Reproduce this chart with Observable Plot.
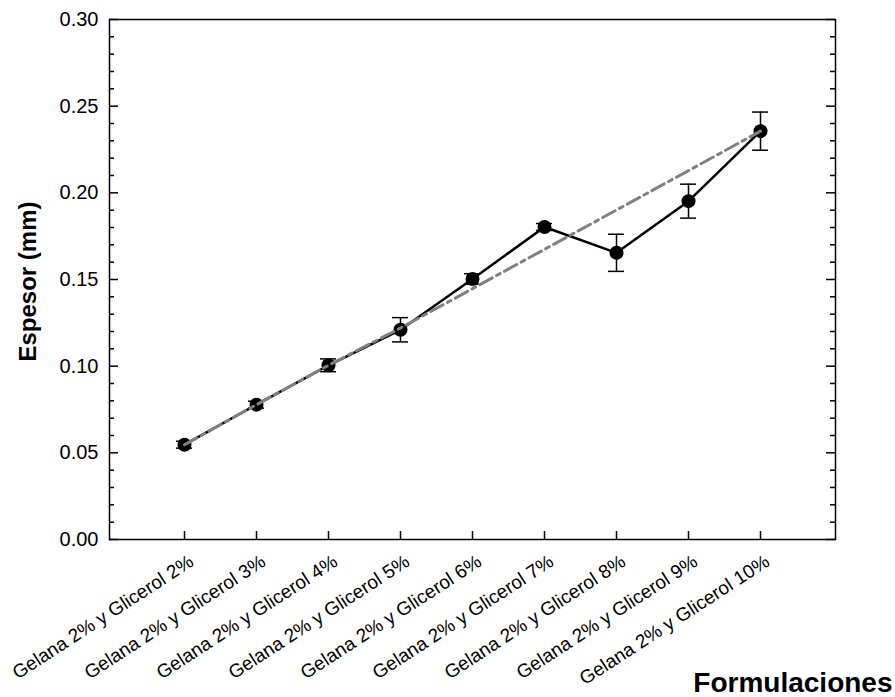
<!DOCTYPE html>
<html>
<head>
<meta charset="utf-8">
<script src="https://cdn.jsdelivr.net/npm/d3@7"></script>
<script src="https://cdn.jsdelivr.net/npm/@observablehq/plot@0.6"></script>
<style>
  html, body { margin: 0; padding: 0; background: #fff; }
</style>
</head>
<body>
<div id="chart"></div>
<script>
const categories = [
  "Gelana 2% y Glicerol 2%",
  "Gelana 2% y Glicerol 3%",
  "Gelana 2% y Glicerol 4%",
  "Gelana 2% y Glicerol 5%",
  "Gelana 2% y Glicerol 6%",
  "Gelana 2% y Glicerol 7%",
  "Gelana 2% y Glicerol 8%",
  "Gelana 2% y Glicerol 9%",
  "Gelana 2% y Glicerol 10%"
];
const espesor = [0.0547, 0.0778, 0.1005, 0.1210, 0.1503, 0.1803, 0.1654, 0.1952, 0.2356];
const errorEst = [0.0020, 0.0020, 0.0037, 0.0070, 0.0030, 0.0020, 0.0107, 0.0098, 0.0110];
const tendencia = [0.0547, 0.0778, 0.1005, 0.1220, 0.1447, 0.1674, 0.1901, 0.2128, 0.2356];

const yTickLabels = [0.00, 0.05, 0.10, 0.15, 0.20, 0.25, 0.30];
const yMinorTicks = [0.01, 0.02, 0.03, 0.04, 0.06, 0.07, 0.08, 0.09, 0.11, 0.12, 0.13, 0.14,
  0.16, 0.17, 0.18, 0.19, 0.21, 0.22, 0.23, 0.24, 0.26, 0.27, 0.28, 0.29];

const yLabel = "Espesor (mm)";
const xLabel = "Formulaciones";

const data = categories.map((c, i) => ({
  cat: c, y: espesor[i], lo: espesor[i] - errorEst[i], hi: espesor[i] + errorEst[i], trend: tendencia[i]
}));

const W = 895, H = 697;
const mL = 109, mR = 60, mT = 19, mB = 158;
const pw = W - mL - mR, ph = H - mT - mB;
const font = "'Liberation Sans', Arial, Helvetica, sans-serif";

const chart = Plot.plot({
  width: W,
  height: H,
  marginLeft: mL,
  marginRight: mR,
  marginTop: mT,
  marginBottom: mB,
  style: { fontFamily: font, background: "#fff", color: "#000" },
  x: { type: "point", domain: categories, padding: 1, axis: null },
  y: { domain: [0, 0.30], axis: null },
  marks: [
    Plot.axisY({ ticks: yTickLabels, tickFormat: d3.format(".2f"), tickSize: 0, tickPadding: 11, fontSize: 20, label: null, line: false }),
    // inward ticks
    Plot.tickY(yTickLabels, { y: d => d, stroke: "#000", strokeWidth: 1.5, insetRight: pw - 9 }),
    Plot.tickY(yMinorTicks, { y: d => d, stroke: "#000", strokeWidth: 1.5, insetRight: pw - 5 }),
    Plot.tickY(yTickLabels, { y: d => d, stroke: "#000", strokeWidth: 1.5, insetLeft: pw - 9 }),
    Plot.tickY(yMinorTicks, { y: d => d, stroke: "#000", strokeWidth: 1.5, insetLeft: pw - 5 }),
    Plot.tickX(categories, { x: d => d, stroke: "#000", strokeWidth: 1.5, insetTop: ph - 8 }),
    Plot.frame({ stroke: "#000", strokeWidth: 1.5 }),
    // error bars
    Plot.ruleX(data, { x: "cat", y1: "lo", y2: "hi", stroke: "#000", strokeWidth: 1.5 }),
    Plot.ruleY(data, { y: "hi", x1: "cat", x2: "cat", insetLeft: -8, insetRight: -8, stroke: "#000", strokeWidth: 1.5 }),
    Plot.ruleY(data, { y: "lo", x1: "cat", x2: "cat", insetLeft: -8, insetRight: -8, stroke: "#000", strokeWidth: 1.5 }),
    // data line and points
    Plot.line(data, { x: "cat", y: "y", stroke: "#000", strokeWidth: 2.5 }),
    Plot.dot(data, { x: "cat", y: "y", r: 7, fill: "#000", stroke: "none" }),
    // trend line
    Plot.line(data, { x: "cat", y: "trend", stroke: "#808080", strokeWidth: 3, strokeDasharray: "14,5,4,5" }),
    // x tick labels
    Plot.text(categories, { x: d => d, frameAnchor: "bottom", rotate: -33, textAnchor: "end", lineAnchor: "top", dx: 3, dy: 14, fontSize: 19, fill: "#000" }),
    // axis titles
    Plot.text([yLabel], { frameAnchor: "left", rotate: -90, textAnchor: "middle", lineAnchor: "middle", dx: -81, dy: 2, fontSize: 24, fontWeight: "bold", fill: "#000" }),
    Plot.text([xLabel], { frameAnchor: "bottom-right", textAnchor: "end", lineAnchor: "middle", dx: 57, dy: 144, fontSize: 28, fontWeight: "bold", fill: "#000" })
  ]
});

document.getElementById("chart").appendChild(chart);
</script>
</body>
</html>
